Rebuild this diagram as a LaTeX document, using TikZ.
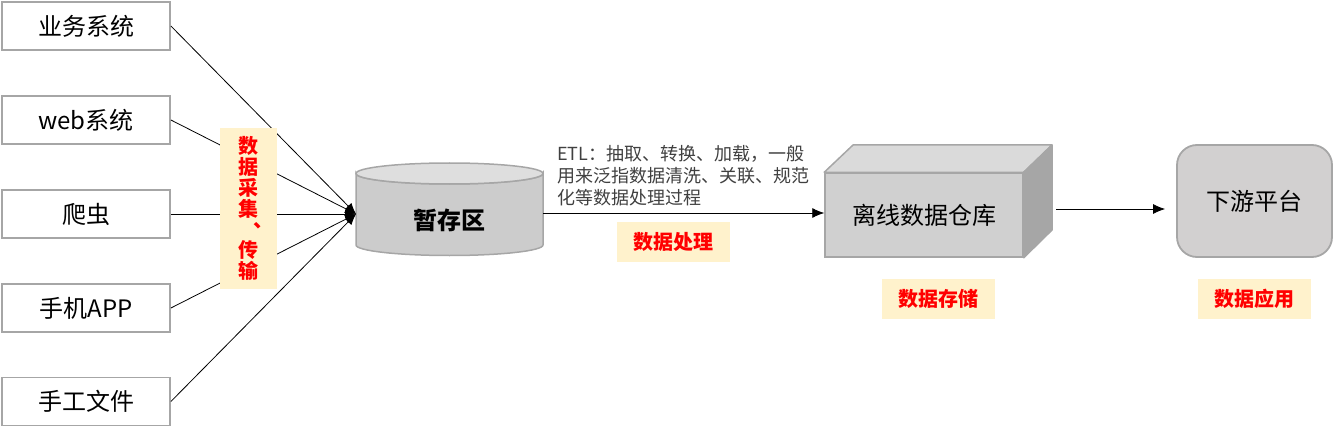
\documentclass[tikz,border=0pt]{standalone}
\usepackage{fontspec}
\setmainfont{Noto Sans CJK SC}
\usetikzlibrary{arrows.meta}
\definecolor{boxgray}{RGB}{166,166,166}
\definecolor{cylfill}{RGB}{204,204,204}
\definecolor{cyltop}{RGB}{222,222,222}
\definecolor{cubefront}{RGB}{208,208,208}
\definecolor{cubetop}{RGB}{218,218,218}
\definecolor{cubeside}{RGB}{166,166,166}
\definecolor{dsfill}{RGB}{210,208,208}
\definecolor{lblyellow}{RGB}{255,242,204}
\definecolor{lblred}{RGB}{255,0,0}
\definecolor{etlgray}{RGB}{64,64,64}
\begin{document}
\begin{tikzpicture}[x=1pt,y=-1pt,
  srcbox/.style={draw=boxgray,line width=1.8pt,fill=white,minimum width=168pt,minimum height=48pt,inner sep=0pt,font=\fontsize{24}{26}\selectfont},
  conn/.style={draw=black,line width=0.8pt,-{Latex[length=11pt,width=9pt]}},
  lbl/.style={fill=lblyellow,text=lblred,inner sep=0pt,font=\bfseries\fontsize{20}{22}\selectfont},
  shapeline/.style={draw=boxgray,line width=1.5pt}]
\useasboundingbox (0,0) rectangle (1336,433);
% source boxes
\node[srcbox] (b1) at (86,26) {业务系统};
\node[srcbox] (b2) at (86,120) {web系统};
\node[srcbox] (b3) at (86,214) {爬虫};
\node[srcbox] (b4) at (86,308) {手机APP};
\node[srcbox] (b5) at (86,401.5) {手工文件};
% staging cylinder
\path[shapeline,fill=cylfill] (356,173.5) -- (356,245)
  arc[start angle=180,end angle=0,x radius=93.5,y radius=10.5]
  -- (543,173.5)
  arc[start angle=0,end angle=180,x radius=93.5,y radius=10.5] -- cycle;
\path[shapeline,fill=cyltop] (449.5,173.5) ellipse[x radius=93.5,y radius=10.5];
\node[inner sep=0pt,font=\bfseries\fontsize{24}{26}\selectfont] (tmp) at (449.5,220) {暂存区};
\coordinate (cin) at (356,214);
\coordinate (cout) at (543,213);
% connectors from sources
\draw[conn] (b1.east) -- (cin);
\draw[conn] (b2.east) -- (cin);
\draw[conn] (b3.east) -- (cin);
\draw[conn] (b4.east) -- (cin);
\draw[conn] (b5.east) -- (cin);
% collection label
\node[lbl,minimum width=57pt,minimum height=161pt,align=center,font=\bfseries\fontsize{20}{20.8}\selectfont] (lcol) at (248.5,208.5)
  {数\\据\\采\\集\\\makebox[1em][l]{\kern0.74em\raisebox{0.48em}{、}}\\传\\输};
% warehouse cube
\node[draw=boxgray,line width=1.5pt,fill=cubefront,minimum width=198pt,minimum height=84pt,inner sep=0pt,font=\fontsize{24}{26}\selectfont] (dw) at (924,215) {离线数据仓库};
\path[shapeline,fill=cubetop,line join=round] (dw.north west) -- (853,145) -- (1052,145) -- (dw.north east) -- cycle;
\path[shapeline,fill=cubeside,line join=round] (dw.north east) -- (1052,145) -- (1052,230) -- (dw.south east) -- cycle;
% ETL arrow and text
\draw[conn,-{Latex[length=12pt,width=10pt]}] (cout) -- (dw.west |- cout);
\node[anchor=west,align=left,inner sep=0pt,text=etlgray,font=\fontsize{18}{22}\selectfont] (etl) at (557,176)
  {ETL：抽取、转换、加载，一般\\用来泛指数据清洗、关联、规范\\化等数据处理过程};
\node[lbl,minimum width=113pt,minimum height=40pt] (lproc) at (673.5,242) {数据处理};
% downstream platform
\node[draw=boxgray,line width=1.8pt,fill=dsfill,rounded corners=20pt,minimum width=155pt,minimum height=112pt,inner sep=0pt,font=\fontsize{24}{26}\selectfont] (ds) at (1254.5,201) {下游平台};
\coordinate (dwout) at (1056,209);
\draw[conn,-{Latex[length=12pt,width=10pt]},shorten >=11pt] (dwout) -- (ds.west |- dwout);
% stage labels
\node[lbl,minimum width=113pt,minimum height=40pt] (lsto) at (938.5,299) {数据存储};
\node[lbl,minimum width=113pt,minimum height=40pt] (lapp) at (1254.5,299) {数据应用};
\end{tikzpicture}
\end{document}
